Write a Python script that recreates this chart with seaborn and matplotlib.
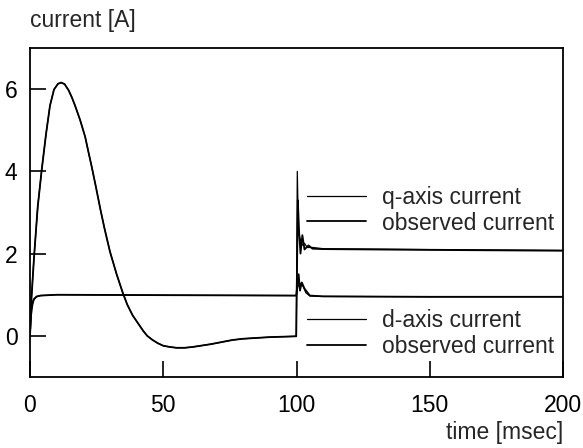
import matplotlib
matplotlib.use("Agg")
import matplotlib.pyplot as plt
import seaborn as sns
from matplotlib.lines import Line2D

# ---- data ----
q_time = [0, 0.5, 1.5, 2.9, 4.4, 6, 7.5, 9, 10.5, 11.7, 13, 14.5, 15.7, 16.9, 18.8, 20.7,
          22, 23.2, 24.8, 26.5, 28, 30, 32.5, 34.8, 36.5, 38.5, 40.6, 42.5, 44, 46, 48, 50, 52.5,
          55, 58, 61, 64, 68, 72, 76, 80, 85, 90, 95, 99.9,
          100.3, 100.7, 101.2, 102, 103, 104, 106, 110, 130, 150, 175, 200]
q_current = [0, 0.9, 1.9, 3.14, 4.04, 4.9, 5.6, 5.99, 6.13, 6.16, 6.12, 5.97, 5.8, 5.6, 5.25, 4.84,
             4.45, 4.1, 3.6, 3.05, 2.6, 2.05, 1.5, 1.05, 0.76, 0.5, 0.3, 0.12, 0.0, -0.1, -0.18, -0.24, -0.27,
             -0.29, -0.29, -0.27, -0.24, -0.2, -0.15, -0.1, -0.07, -0.05, -0.03, -0.02, -0.01,
             4.0, 2.6, 2.4, 2.2, 2.25, 2.15, 2.15, 2.12, 2.11, 2.1, 2.09, 2.08]

q_obs_time = [0, 0.5, 1.5, 2.9, 4.4, 6, 7.5, 9, 10.5, 11.7, 13, 14.5, 15.7, 16.9, 18.8, 20.7,
              22, 23.2, 24.8, 26.5, 28, 30, 32.5, 34.8, 36.5, 38.5, 40.6, 42.5, 44, 46, 48, 50, 52.5,
              55, 58, 61, 64, 68, 72, 76, 80, 85, 90, 95, 99.9,
              100.5, 101, 101.5, 102.2, 103, 104.5, 106, 110, 130, 150, 175, 200]
q_observed = [0, 0.85, 1.9, 3.14, 4.04, 4.9, 5.6, 5.99, 6.13, 6.16, 6.12, 5.97, 5.8, 5.6, 5.25, 4.84,
              4.45, 4.1, 3.6, 3.05, 2.6, 2.05, 1.5, 1.05, 0.76, 0.5, 0.3, 0.12, 0.0, -0.1, -0.18, -0.24, -0.27,
              -0.29, -0.29, -0.27, -0.24, -0.2, -0.15, -0.1, -0.07, -0.05, -0.03, -0.02, -0.01,
              3.3, 2.5, 2.0, 2.45, 2.1, 2.2, 2.12, 2.11, 2.1, 2.09, 2.08, 2.07]

d_time = [0, 0.5, 1, 1.5, 2.5, 4, 10, 50, 99.9,
          100.5, 101.5, 102.5, 103.5, 105, 110, 150, 200]
d_current = [0, 0.5, 0.75, 0.88, 0.95, 0.98, 1.0, 0.99, 0.98,
             1.2, 1.28, 1.2, 1.05, 0.97, 0.96, 0.95, 0.95]

d_obs_time = [0, 0.3, 0.8, 1.5, 2.5, 4, 10, 50, 99.9,
              100.8, 101.3, 102, 103, 105, 110, 150, 200]
d_observed = [0, 0.6, 0.8, 0.9, 0.96, 0.98, 1.0, 0.99, 0.98,
              1.5, 1.1, 1.3, 1.15, 0.98, 0.96, 0.95, 0.95]

x_ticks = [0, 50, 100, 150, 200]
y_ticks = [0, 2, 4, 6]
legend_q = ["q-axis current", "observed current"]
legend_d = ["d-axis current", "observed current"]

# ---- style ----
sns.set_style("ticks")
plt.rcParams["font.family"] = ["Liberation Sans", "DejaVu Sans"]
FS = 16.5

fig = plt.figure(figsize=(5.83, 4.48), dpi=100)
ax = fig.add_axes([30 / 583, 1 - 377 / 448, (563 - 30) / 583, (377 - 48) / 448])

thin = 0.9
thick = 1.3
sns.lineplot(x=q_time, y=q_current, ax=ax, color="black", lw=thin,
             estimator=None, sort=False)
sns.lineplot(x=q_obs_time, y=q_observed, ax=ax, color="black", lw=thick,
             estimator=None, sort=False)
sns.lineplot(x=d_time, y=d_current, ax=ax, color="black", lw=thin,
             estimator=None, sort=False)
sns.lineplot(x=d_obs_time, y=d_observed, ax=ax, color="black", lw=thick,
             estimator=None, sort=False)

ax.set_xlim(0, 200)
ax.set_ylim(-1, 7)
ax.set_xticks(x_ticks)
ax.set_yticks(y_ticks)
ax.set_xticklabels([str(v) for v in x_ticks])
ax.set_yticklabels([str(v) for v in y_ticks])
ax.tick_params(axis="both", direction="in", length=11.5, width=1.2,
               labelsize=FS, colors="black")
ax.tick_params(axis="x", pad=12)
ax.tick_params(axis="y", pad=9)
for s in ax.spines.values():
    s.set_linewidth(1.3)
    s.set_color("black")
ax.set_xlabel("")
ax.set_ylabel("")

fig.text(30 / 583, 1 - 21 / 448, "current [A]", fontsize=FS, ha="left", va="center")
fig.text(563 / 583, 1 - 432 / 448, "time [msec]", fontsize=FS, ha="right", va="center")

hq = [Line2D([], [], color="black", lw=thin), Line2D([], [], color="black", lw=thick)]
common = dict(loc="upper left", frameon=False, fontsize=FS, handlelength=2.58,
              handletextpad=0.7, labelspacing=0.11, borderpad=0, borderaxespad=0)
leg1 = ax.legend(hq, legend_q, bbox_to_anchor=((307 - 30) / 533, (377 - 186) / 329), **common)
ax.add_artist(leg1)
ax.legend(hq, legend_d, bbox_to_anchor=((307 - 30) / 533, (377 - 309) / 329), **common)

fig.savefig("out.png", dpi=100)
